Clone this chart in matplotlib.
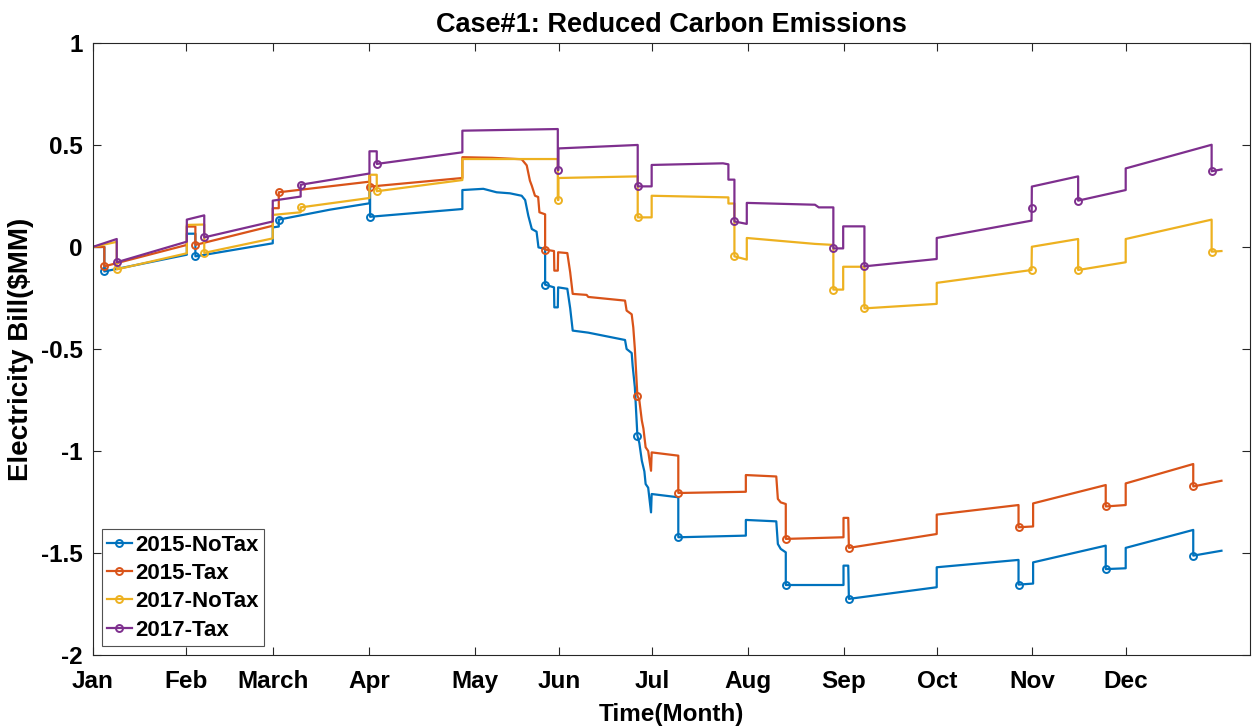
import numpy as np
import matplotlib
matplotlib.use("Agg")
import matplotlib.pyplot as plt
from matplotlib.ticker import FuncFormatter

# --- bill curves, x = day of year, y = $MM ---
x_2015_notax = [0, 3.69, 3.69, 29.7, 29.7, 32.4, 32.4, 56.8, 56.8, 58.7, 58.7, 74.9, 87.3, 87.3, 87.5, 87.5,
                116.6, 116.6, 123.2, 127.4, 131.6, 135.3, 136.4, 137.4, 138.5, 140.0, 140.6, 142.7, 142.7,
                145.5, 145.6, 146.7, 146.8, 149.7, 150.6, 151.4, 156.3, 167.9, 168.4, 170.0, 170.3, 171.0,
                171.8, 172.4, 173.2, 174.0, 174.4, 175.2, 176.1, 176.3, 184.7, 184.7, 206.0, 206.0, 215.6,
                216.1, 217.0, 218.6, 218.6, 236.8, 236.8, 238.3, 238.5, 266.2, 266.2, 292.0, 292.0, 296.6,
                296.6, 319.5, 319.5, 325.8, 325.8, 347.1, 347.1, 356.0]
y_2015_notax = [0, 0.0, -0.12, -0.038, 0.065, 0.065, -0.046, 0.018, 0.096, 0.1, 0.134, 0.183, 0.214, 0.30, 0.30, 0.148,
                0.186, 0.279, 0.285, 0.268, 0.263, 0.251, 0.23, 0.153, 0.088, 0.075, -0.002, -0.01, -0.185,
                -0.198, -0.296, -0.296, -0.198, -0.205, -0.30, -0.41, -0.42, -0.456, -0.50, -0.52, -0.582, -0.688,
                -0.925, -0.96, -1.048, -1.10, -1.162, -1.18, -1.301, -1.211, -1.227, -1.423, -1.415, -1.338, -1.345,
                -1.456, -1.48, -1.497, -1.657, -1.657, -1.562, -1.562, -1.725, -1.668, -1.57, -1.534, -1.655, -1.65,
                -1.546, -1.464, -1.579, -1.575, -1.475, -1.387, -1.513, -1.489]
mk_2015_notax = [2, 6, 10, 15, 28, 42, 51, 58, 62, 66, 70, 74]

x_2015_tax = [0, 3.69, 3.69, 29.7, 29.7, 32.4, 32.4, 56.8, 56.8, 58.7, 58.7, 87.3, 87.3, 87.5, 87.5,
              116.6, 116.6, 126.0, 135.3, 136.9, 137.9, 138.5, 139.5, 140.5, 140.9, 142.7, 142.7,
              145.5, 145.6, 146.7, 146.8, 149.7, 150.6, 151.4, 155.8, 156.3, 167.9, 168.4, 170.0, 170.5, 171.0,
              171.8, 172.4, 173.2, 173.7, 174.4, 175.2, 176.1, 176.3, 184.7, 184.7, 206.0, 206.0, 215.6,
              216.1, 217.0, 218.6, 218.6, 236.8, 236.8, 238.3, 238.5, 266.2, 266.2, 292.0, 292.0, 296.6,
              296.6, 319.5, 319.5, 325.8, 325.8, 347.1, 347.1, 356.0]
y_2015_tax = [0, 0.0, -0.095, 0.01, 0.10, 0.10, 0.01, 0.104, 0.19, 0.19, 0.268, 0.32, 0.35, 0.35, 0.296,
              0.338, 0.44, 0.437, 0.43, 0.40, 0.325, 0.30, 0.251, 0.245, 0.17, 0.16, -0.013,
              -0.02, -0.116, -0.116, -0.026, -0.03, -0.124, -0.23, -0.235, -0.245, -0.263, -0.312, -0.33, -0.394, -0.50,
              -0.729, -0.75, -0.851, -0.89, -0.982, -1.0, -1.097, -1.007, -1.023, -1.206, -1.20, -1.118, -1.125,
              -1.235, -1.252, -1.26, -1.431, -1.423, -1.328, -1.328, -1.475, -1.407, -1.312, -1.265, -1.374, -1.37,
              -1.257, -1.167, -1.272, -1.265, -1.159, -1.064, -1.174, -1.146]
mk_2015_tax = [2, 6, 10, 14, 26, 41, 50, 57, 61, 65, 69, 73]

x_2017_notax = [0, 7.6, 7.6, 29.7, 29.7, 35.2, 35.2, 56.8, 56.8, 65.6, 65.6, 87.3, 87.3, 89.6, 89.6,
                116.6, 116.6, 146.7, 146.7, 146.9, 146.9, 171.9, 171.9, 176.3, 176.3, 200.5, 200.5, 202.4, 202.4,
                206.3, 206.3, 227.8, 233.6, 233.6, 236.7, 236.7, 243.4, 243.4, 266.2, 266.2, 296.1, 296.2,
                310.8, 310.8, 325.8, 325.8, 352.9, 352.9, 356.0]
y_2017_notax = [0, 0.025, -0.11, -0.031, 0.108, 0.11, -0.029, 0.042, 0.157, 0.17, 0.194, 0.24, 0.354, 0.354, 0.273,
                0.328, 0.431, 0.431, 0.23, 0.23, 0.338, 0.346, 0.145, 0.145, 0.251, 0.243, 0.213, 0.213, -0.046,
                -0.062, 0.044, 0.015, 0.01, -0.209, -0.209, -0.097, -0.097, -0.301, -0.279, -0.176, -0.113, 0.001,
                0.039, -0.113, -0.075, 0.039, 0.134, -0.023, -0.02]
mk_2017_notax = [2, 6, 10, 14, 18, 22, 28, 33, 37, 40, 43, 47]

x_2017_tax = [0, 7.6, 7.6, 29.7, 29.7, 35.2, 35.2, 56.8, 56.8, 65.6, 65.6, 87.3, 87.3, 89.6, 89.6,
              116.6, 116.6, 146.7, 146.7, 146.9, 146.9, 171.9, 171.9, 176.3, 176.3, 198.8, 200.5, 200.5, 202.4, 202.4,
              206.3, 206.3, 227.8, 229.0, 233.6, 233.6, 236.7, 236.7, 243.4, 243.4, 266.2, 266.2, 296.1, 296.15, 296.2,
              310.8, 310.8, 325.8, 325.8, 352.9, 352.9, 356.0]
y_2017_tax = [0, 0.039, -0.075, 0.026, 0.134, 0.155, 0.047, 0.125, 0.227, 0.247, 0.305, 0.36, 0.469, 0.469, 0.407,
              0.464, 0.57, 0.578, 0.377, 0.377, 0.483, 0.50, 0.297, 0.297, 0.402, 0.41, 0.405, 0.33, 0.33, 0.125,
              0.113, 0.216, 0.207, 0.194, 0.194, -0.007, -0.007, 0.101, 0.101, -0.095, -0.059, 0.044, 0.129, 0.191, 0.296,
              0.346, 0.227, 0.279, 0.385, 0.501, 0.371, 0.38]
mk_2017_tax = [2, 6, 10, 14, 18, 22, 29, 35, 39, 43, 46, 50]

month_labels = ['Jan', 'Feb', 'March', 'Apr', 'May', 'Jun', 'Jul', 'Aug', 'Sep', 'Oct', 'Nov', 'Dec']
month_ticks = [0, 29.5, 56.9, 87.2, 120.6, 147.1, 176.4, 206.7, 237.0, 266.3, 296.3, 325.9]

plt.rcParams['font.family'] = ['Liberation Sans', 'DejaVu Sans']
plt.rcParams['font.weight'] = 'bold'
plt.rcParams['axes.unicode_minus'] = False

fig = plt.figure(figsize=(12.52, 7.28), dpi=100)
ax = fig.add_axes([0.074, 0.1003, 0.9244, 0.8407])

series = [
    (x_2015_notax, y_2015_notax, mk_2015_notax, '#0072BD', '2015-NoTax'),
    (x_2015_tax, y_2015_tax, mk_2015_tax, '#D95319', '2015-Tax'),
    (x_2017_notax, y_2017_notax, mk_2017_notax, '#EDB120', '2017-NoTax'),
    (x_2017_tax, y_2017_tax, mk_2017_tax, '#7E2F8E', '2017-Tax'),
]
for xs, ys, mk, c, lab in series:
    ax.plot(xs, ys, color=c, lw=1.6, marker='o', markevery=mk, ms=5,
            mfc='none', mec=c, mew=1.4, label=lab)

ax.set_xlim(0, 365)
ax.set_ylim(-2, 1)
ax.set_xticks(month_ticks)
ax.set_xticklabels(month_labels)
ax.set_yticks([-2, -1.5, -1, -0.5, 0, 0.5, 1])
ax.yaxis.set_major_formatter(FuncFormatter(lambda v, p: '%g' % v))
ax.tick_params(direction='in', top=True, right=True, length=6, width=0.8,
               color='#262626', labelsize=17.5)
ax.tick_params(axis='x', pad=11)
ax.tick_params(axis='y', pad=7)
for s in ax.spines.values():
    s.set_color('#262626')
    s.set_linewidth(0.8)

ax.set_title('Case#1: Reduced Carbon Emissions', fontsize=19.5, fontweight='bold', pad=8)
ax.set_xlabel('Time(Month)', fontsize=17.5, fontweight='bold', labelpad=7)
ax.set_ylabel('Electricity Bill($MM)', fontsize=20, fontweight='bold', labelpad=5)

leg = ax.legend(loc='lower left', fontsize=16, frameon=True, fancybox=False,
                borderaxespad=0.4, handlelength=1.1, handletextpad=0.15,
                labelspacing=0.33, borderpad=0.25)
leg.get_frame().set_edgecolor('#262626')
leg.get_frame().set_linewidth(0.8)
for t in leg.get_texts():
    t.set_fontweight('bold')

fig.savefig('out.png', dpi=100)
